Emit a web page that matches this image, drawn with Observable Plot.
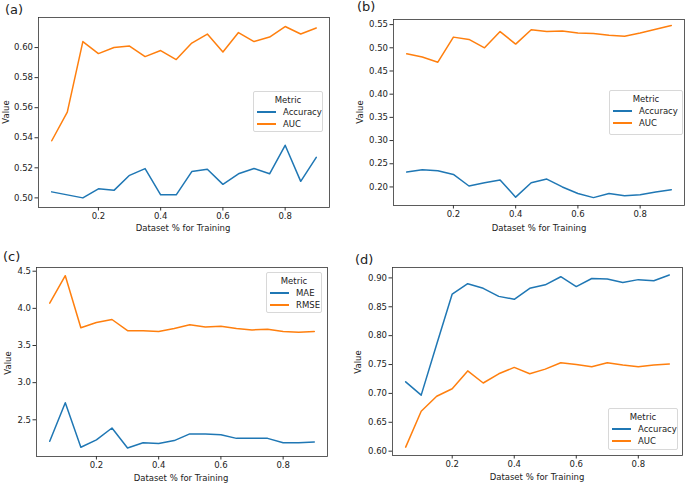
<!DOCTYPE html>
<html>
<head>
<meta charset="utf-8">
<script src="https://cdn.jsdelivr.net/npm/d3@7"></script>
<script src="https://cdn.jsdelivr.net/npm/@observablehq/plot@0.6"></script>
<style>
  html, body { margin: 0; padding: 0; background: #fff; }
  #root { position: relative; width: 685px; height: 483px; overflow: hidden; font-family: "DejaVu Sans", sans-serif; color: #222; }
  .panel { position: absolute; }
  .ptitle { position: absolute; font-size: 13px; line-height: 1; }
  .xlab { position: absolute; font-size: 8.5px; transform: translate(-50%, -50%); white-space: nowrap; }
  .ylab { position: absolute; font-size: 8.5px; transform: translate(-50%, -50%) rotate(-90deg); white-space: nowrap; }
  .legend { position: absolute; box-sizing: border-box; border: 1px solid #d8d8d8; border-radius: 2px; background: rgba(255,255,255,0.8); font-size: 8.5px; }
  .legend .lt { text-align: center; margin-top: 3px; }
  .legend .row { display: flex; align-items: center; margin-left: 3px; margin-top: 2px; }
  .legend .sw { display: inline-block; width: 19px; height: 1.6px; margin-right: 7px; }
</style>
</head>
<body>
<div id="root"></div>
<script>
// Shared x values: fraction of dataset used for training
const xPct = [0.05, 0.10, 0.15, 0.20, 0.25, 0.30, 0.35, 0.40, 0.45, 0.50, 0.55, 0.60, 0.65, 0.70, 0.75, 0.80, 0.85, 0.90];
const xTicks = [0.2, 0.4, 0.6, 0.8];

// Panel (a)
const aAccuracy = [0.504, 0.502, 0.500, 0.506, 0.505, 0.515, 0.5195, 0.502, 0.502, 0.5175, 0.519, 0.509, 0.516, 0.5195, 0.516, 0.535, 0.511, 0.527];
const aAUC      = [0.538, 0.557, 0.604, 0.596, 0.600, 0.601, 0.594, 0.598, 0.592, 0.603, 0.609, 0.597, 0.610, 0.604, 0.607, 0.614, 0.609, 0.613];
const aTicks = [0.50, 0.52, 0.54, 0.56, 0.58, 0.60];

// Panel (b)
const bAccuracy = [0.232, 0.237, 0.235, 0.227, 0.202, 0.209, 0.215, 0.178, 0.209, 0.217, 0.200, 0.186, 0.177, 0.186, 0.181, 0.183, 0.189, 0.194];
const bAUC      = [0.487, 0.480, 0.469, 0.523, 0.518, 0.500, 0.535, 0.508, 0.539, 0.535, 0.536, 0.532, 0.531, 0.527, 0.525, 0.532, 0.540, 0.548];
const bTicks = [0.20, 0.25, 0.30, 0.35, 0.40, 0.45, 0.50, 0.55];

// Panel (c)
const cMAE  = [2.21, 2.73, 2.13, 2.23, 2.39, 2.12, 2.19, 2.18, 2.22, 2.31, 2.31, 2.30, 2.25, 2.25, 2.25, 2.19, 2.19, 2.20];
const cRMSE = [4.07, 4.44, 3.74, 3.81, 3.85, 3.70, 3.70, 3.69, 3.73, 3.78, 3.75, 3.76, 3.73, 3.71, 3.72, 3.69, 3.68, 3.69];
const cTicks = [2.5, 3.0, 3.5, 4.0, 4.5];

// Panel (d)
const dAccuracy = [0.720, 0.697, 0.785, 0.872, 0.890, 0.882, 0.868, 0.863, 0.882, 0.888, 0.902, 0.885, 0.899, 0.898, 0.892, 0.897, 0.895, 0.905];
const dAUC      = [0.607, 0.669, 0.695, 0.708, 0.739, 0.718, 0.734, 0.745, 0.734, 0.742, 0.753, 0.750, 0.746, 0.753, 0.749, 0.746, 0.749, 0.751];
const dTicks = [0.60, 0.65, 0.70, 0.75, 0.80, 0.85, 0.90];

const metricColors = ["#1f77b4", "#ff7f0e"];
const xLabel = "Dataset % for Training";
const yLabel = "Value";
const legendTitle = "Metric";

const panels = [
  { id: "(a)", names: ["Accuracy", "AUC"], series: [aAccuracy, aAUC], yTicks: aTicks, fmt: ".2f", yDomain: [0.4936, 0.620],
    box: { left: 0, top: 0, width: 340, height: 240, mL: 38, mR: 11, mT: 17, mB: 33 },
    title: [5, 3], ylab: [6, 112], xlab: [183, 228], legend: [253, 91, 70, 41] },
  { id: "(b)", names: ["Accuracy", "AUC"], series: [bAccuracy, bAUC], yTicks: bTicks, fmt: ".2f", yDomain: [0.160, 0.561],
    box: { left: 340, top: 0, width: 345, height: 240, mL: 53, mR: 1, mT: 19, mB: 35 },
    title: [357, 0], ylab: [360, 112], xlab: [539, 228], legend: [609, 90, 74, 45] },
  { id: "(c)", names: ["MAE", "RMSE"], series: [cMAE, cRMSE], yTicks: cTicks, fmt: ".1f", yDomain: [2.006, 4.55],
    box: { left: 0, top: 240, width: 340, height: 243, mL: 36, mR: 13, mT: 27, mB: 27 },
    title: [3, 250], ylab: [8, 363], xlab: [181, 478], legend: [266, 272, 56, 41] },
  { id: "(d)", names: ["Accuracy", "AUC"], series: [dAccuracy, dAUC], yTicks: dTicks, fmt: ".2f", yDomain: [0.5925, 0.918],
    box: { left: 340, top: 240, width: 345, height: 243, mL: 52, mR: 3, mT: 27, mB: 28 },
    title: [355, 253], ylab: [358, 362], xlab: [537, 477], legend: [608, 408, 70, 42] }
];

const root = document.getElementById("root");

for (const p of panels) {
  const rows = [];
  p.names.forEach((name, i) => {
    p.series[i].forEach((v, j) => rows.push({ x: xPct[j], value: v, metric: name }));
  });
  const b = p.box;
  const chart = Plot.plot({
    width: b.width,
    height: b.height,
    marginLeft: b.mL, marginRight: b.mR, marginTop: b.mT, marginBottom: b.mB,
    style: { fontFamily: "DejaVu Sans, sans-serif", fontSize: "8.5px", color: "#222", background: "transparent" },
    x: { domain: [0.0075, 0.9425] },
    y: { domain: p.yDomain },
    color: { domain: p.names, range: metricColors },
    marks: [
      Plot.line(rows, { x: "x", y: "value", stroke: "metric", strokeWidth: 1.5 }),
      Plot.frame({ stroke: "#333", strokeWidth: 0.8 }),
      Plot.axisX({ ticks: xTicks, tickFormat: d3.format(".1f"), tickSize: 3.5, tickPadding: 2, label: null, stroke: "#333" }),
      Plot.axisY({ ticks: p.yTicks, tickFormat: d3.format(p.fmt), tickSize: 3.5, tickPadding: 2, label: null, stroke: "#333" })
    ]
  });
  const wrap = document.createElement("div");
  wrap.className = "panel";
  wrap.style.left = b.left + "px";
  wrap.style.top = b.top + "px";
  wrap.appendChild(chart);
  root.appendChild(wrap);

  const t = document.createElement("div");
  t.className = "ptitle"; t.textContent = p.id;
  t.style.left = p.title[0] + "px"; t.style.top = p.title[1] + "px";
  root.appendChild(t);

  const yl = document.createElement("div");
  yl.className = "ylab"; yl.textContent = yLabel;
  yl.style.left = p.ylab[0] + "px"; yl.style.top = p.ylab[1] + "px";
  root.appendChild(yl);

  const xl = document.createElement("div");
  xl.className = "xlab"; xl.textContent = xLabel;
  xl.style.left = p.xlab[0] + "px"; xl.style.top = p.xlab[1] + "px";
  root.appendChild(xl);

  const lg = document.createElement("div");
  lg.className = "legend";
  lg.style.left = p.legend[0] + "px"; lg.style.top = p.legend[1] + "px";
  lg.style.width = p.legend[2] + "px"; lg.style.height = p.legend[3] + "px";
  const lt = document.createElement("div");
  lt.className = "lt"; lt.textContent = legendTitle;
  lg.appendChild(lt);
  p.names.forEach((name, i) => {
    const r = document.createElement("div");
    r.className = "row";
    const sw = document.createElement("span");
    sw.className = "sw"; sw.style.background = metricColors[i];
    const tx = document.createElement("span");
    tx.textContent = name;
    r.appendChild(sw); r.appendChild(tx);
    lg.appendChild(r);
  });
  root.appendChild(lg);
}
</script>
</body>
</html>
